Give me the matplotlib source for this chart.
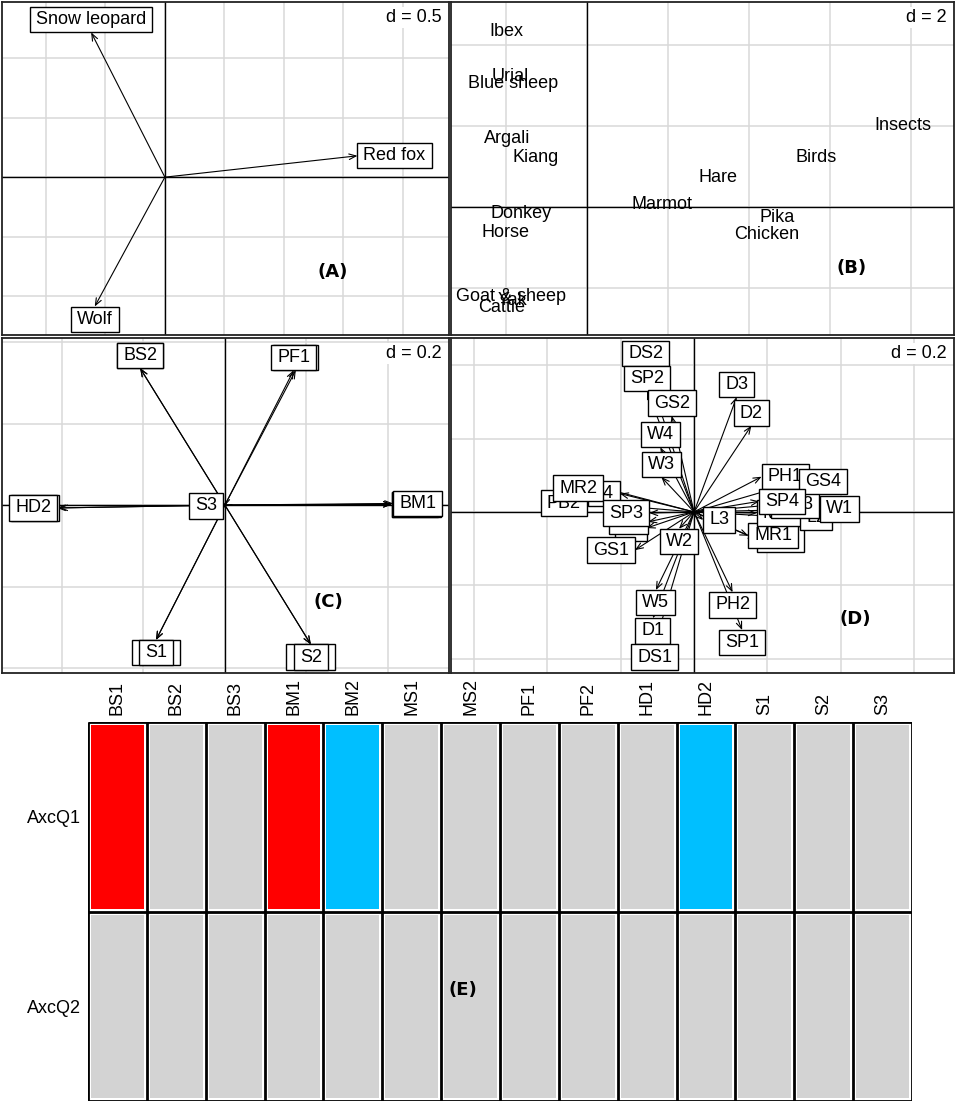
import numpy as np
import matplotlib
matplotlib.use('Agg')
import matplotlib.pyplot as plt
from matplotlib.colors import ListedColormap
from matplotlib.ticker import MultipleLocator
from matplotlib.path import Path

plt.rcParams['font.family'] = ['Liberation Sans', 'DejaVu Sans']
FS = 13
W, H = 957, 1104
PADX, PADY = 0.33, 0.23   # label box padding, in font sizes

# (A) predators
predators = ['Snow leopard', 'Red fox', 'Wolf']
pred_x = [-0.62, 1.62, -0.59]
pred_y = [1.22, 0.18, -1.09]

# (B) prey items
preys = ['Ibex', 'Urial', 'Blue sheep', 'Argali', 'Kiang', 'Insects', 'Birds', 'Hare',
         'Marmot', 'Donkey', 'Horse', 'Pika', 'Chicken', 'Goat & sheep', 'Yak', 'Cattle']
prey_x = [-2.0, -1.90, -1.83, -1.98, -1.26, 7.80, 5.65, 3.23,
          1.85, -1.63, -2.02, 4.69, 4.44, -1.88, -1.83, -2.12]
prey_y = [4.32, 3.23, 3.04, 1.70, 1.21, 2.00, 1.23, 0.74,
          0.07, -0.15, -0.62, -0.27, -0.67, -2.20, -2.30, -2.49]

# (C) trait categories (drawing order, overlapped ones first)
trait_lab = ['BS3', 'BS1', 'BM2', 'HD1', 'PF2', 'MS1', 'MS2',
             'BS2', 'PF1', 'HD2', 'BM1', 'S1', 'S2', 'S3']
trait_x = [-0.208, 0.41, 0.41, -0.407, 0.174, -0.169, 0.211,
           -0.208, 0.169, -0.412, 0.413, -0.169, 0.211, -0.004]
trait_y = [0.336, 0.002, 0.002, -0.007, 0.331, -0.331, -0.342,
           0.336, 0.331, -0.007, 0.004, -0.331, -0.342, -0.002]

# (D) habitat variables (drawing order)
env_lab = ['L1', 'W6', 'PB2', 'L4', 'MR2', 'SP3', 'GS1', 'W2',
           'DS2', 'SP2', 'GS2', 'W4', 'W3', 'D3', 'D2',
           'PH3', 'MR1', 'MR3', 'L2', 'GS3', 'PH1', 'GS4', 'SP4', 'W1', 'L3',
           'W5', 'D1', 'DS1', 'PH2', 'SP1']
env_x = [-0.129, -0.125, -0.292, -0.202, -0.247, -0.122, -0.161, -0.041,
         -0.132, -0.128, -0.061, -0.092, -0.089, 0.116, 0.156,
         0.171, 0.148, 0.171, 0.289, 0.21, 0.184, 0.285, 0.178, 0.343, 0.025,
         -0.104, -0.112, -0.107, 0.105, 0.131]
env_y = [-0.044, -0.027, 0.024, 0.050, 0.065, -0.003, -0.104, -0.046,
         0.398, 0.330, 0.262, 0.176, 0.095, 0.313, 0.235,
         -0.074, -0.065, -0.003, -0.016, 0.019, 0.096, 0.083, 0.029, 0.008, -0.022,
         -0.213, -0.290, -0.361, -0.219, -0.322]

# (E) fourth-corner table: 1 = positive, -1 = negative, 0 = n.s.
traits = ['BS1', 'BS2', 'BS3', 'BM1', 'BM2', 'MS1', 'MS2', 'PF1', 'PF2',
          'HD1', 'HD2', 'S1', 'S2', 'S3']
axes_q = ['AxcQ1', 'AxcQ2']
axcq1 = [1, 0, 0, 1, -1, 0, 0, 0, 0, 0, -1, 0, 0, 0]
axcq2 = [0, 0, 0, 0, 0, 0, 0, 0, 0, 0, 0, 0, 0, 0]


def label_box(x0, y0, width, height, mutation_size):
    # rectangle with separate horizontal / vertical padding
    px = PADX * mutation_size
    py = PADY * mutation_size
    xa, ya = x0 - px, y0 - py
    xb, yb = x0 + width + px, y0 + height + py
    return Path([(xa, ya), (xb, ya), (xb, yb), (xa, yb), (xa, ya)], closed=True)


def px_axes(fig, x0, y0, x1, y1):
    return fig.add_axes([x0 / W, 1 - y1 / H, (x1 - x0) / W, (y1 - y0) / H])


def setup_panel(ax, xlim, ylim, d):
    ax.set_xlim(xlim)
    ax.set_ylim(ylim)
    ax.xaxis.set_major_locator(MultipleLocator(d))
    ax.yaxis.set_major_locator(MultipleLocator(d))
    ax.grid(True, color='#d9d9d9', lw=1.1)
    ax.set_axisbelow(True)
    ax.tick_params(length=0, labelbottom=False, labelleft=False)
    for s in ax.spines.values():
        s.set_linewidth(1.3)
        s.set_color('#222222')
    ax.axhline(0, color='black', lw=1, zorder=1)
    ax.axvline(0, color='black', lw=1, zorder=1)
    ax.annotate('d = %g' % d, xy=(1, 1), xycoords='axes fraction', xytext=(-5, -11),
                textcoords='offset points', ha='right', va='center', fontsize=FS,
                bbox=dict(boxstyle='square,pad=0.1', fc='white', ec='none'), zorder=5)


def arrows_with_boxes(ax, labels, xs, ys):
    for x, y in zip(xs, ys):
        ax.annotate('', xy=(x, y), xytext=(0, 0),
                    arrowprops=dict(arrowstyle='->,head_length=0.5,head_width=0.2', lw=0.8,
                                    color='black', shrinkA=0, shrinkB=0, mutation_scale=10),
                    zorder=3)
    for lab, x, y in zip(labels, xs, ys):
        dx, dy = 0, 0
        if abs(x) >= abs(y):
            ha = 'left' if x > 0 else 'right'
            va = 'center'
            dx = PADX * FS * (1 if x > 0 else -1)
        else:
            ha = 'center'
            va = 'bottom' if y > 0 else 'top'
            dy = PADY * FS * (1 if y > 0 else -1)
        ax.annotate(lab, xy=(x, y), xytext=(dx, dy), textcoords='offset points',
                    ha=ha, va=va, fontsize=FS, zorder=4,
                    bbox=dict(boxstyle=label_box, fc='white', ec='black', lw=1))


fig = plt.figure(figsize=(W / 100, H / 100), dpi=100)

# (A)
ax_a = px_axes(fig, 2, 2, 449, 335)
setup_panel(ax_a, (-1.37, 2.39), (-1.33, 1.476), 0.5)
arrows_with_boxes(ax_a, predators, pred_x, pred_y)

# (B)
ax_b = px_axes(fig, 451, 2, 954, 335)
setup_panel(ax_b, (-3.36, 9.06), (-3.16, 5.06), 2)
for lab, x, y in zip(preys, prey_x, prey_y):
    ax_b.text(x, y, lab, ha='center', va='center', fontsize=FS, zorder=4)

# (C)
ax_c = px_axes(fig, 2, 338, 449, 673)
setup_panel(ax_c, (-0.547, 0.55), (-0.412, 0.41), 0.2)
arrows_with_boxes(ax_c, trait_lab, trait_x, trait_y)

# (D)
ax_d = px_axes(fig, 451, 338, 954, 673)
setup_panel(ax_d, (-0.662, 0.708), (-0.439, 0.474), 0.2)
arrows_with_boxes(ax_d, env_lab, env_x, env_y)

# (E)
ax_e = px_axes(fig, 88, 722, 912, 1101)
cmap = ListedColormap(['#00bfff', '#d3d3d3', '#ff0000'])
ax_e.pcolormesh(np.array([axcq1, axcq2]), cmap=cmap, vmin=-1.5, vmax=1.5,
                edgecolors='white', linewidth=3.2)
ax_e.vlines(np.arange(len(traits) + 1), 0, len(axes_q), color='black', lw=2)
ax_e.hlines(np.arange(len(axes_q) + 1), 0, len(traits), color='black', lw=2)
ax_e.set_xlim(0, len(traits))
ax_e.set_ylim(len(axes_q), 0)
ax_e.xaxis.tick_top()
ax_e.set_xticks(np.arange(len(traits)) + 0.5)
ax_e.set_xticklabels(traits, rotation=90, fontsize=FS)
ax_e.set_yticks(np.arange(len(axes_q)) + 0.5)
ax_e.set_yticklabels(axes_q, fontsize=FS)
ax_e.tick_params(length=0, pad=5)
for s in ax_e.spines.values():
    s.set_visible(False)

# panel tags
for tag, x, y in [('(A)', 333, 272), ('(B)', 852, 268), ('(C)', 328, 602),
                  ('(D)', 855, 619), ('(E)', 463, 990)]:
    fig.text(x / W, 1 - y / H, tag, ha='center', va='center', fontsize=FS,
             fontweight='bold', family='DejaVu Sans')

fig.savefig('out.png', dpi=100)
